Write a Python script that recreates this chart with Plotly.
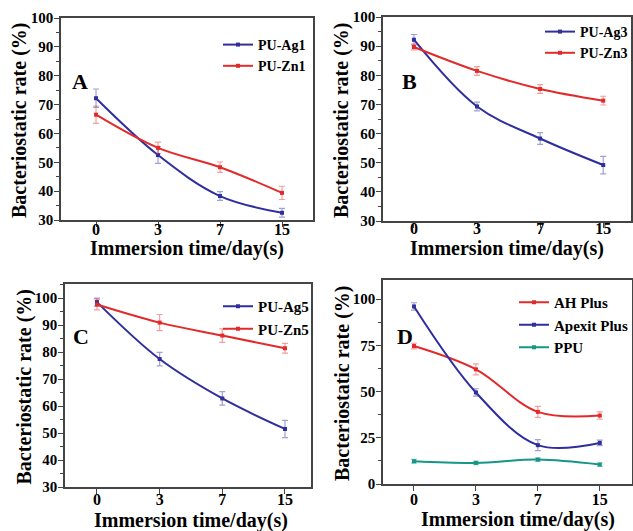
import plotly.graph_objects as go

# ---------------- data ----------------
days = ["0", "3", "7", "15"]

# Panel A
ag1 = [72.2, 52.5, 38.3, 32.5]
ag1_err = [3.2, 2.9, 1.5, 1.5]
zn1 = [66.5, 55.0, 48.3, 39.4]
zn1_err = [3.0, 2.0, 1.8, 2.3]

# Panel B
ag3 = [92.2, 69.3, 58.3, 49.2]
ag3_err = [1.8, 1.5, 2.0, 3.0]
zn3 = [89.7, 81.5, 75.3, 71.3]
zn3_err = [1.0, 1.5, 1.5, 1.5]

# Panel C
ag5 = [98.5, 77.4, 62.8, 51.5]
ag5_err = [1.5, 2.5, 2.5, 3.2]
zn5 = [97.6, 90.9, 86.1, 81.4]
zn5_err = [2.0, 3.0, 2.5, 1.8]

# Panel D
ah_plus = [74.6, 62.0, 39.0, 37.0]
ah_plus_err = [1.5, 3.0, 3.0, 2.0]
apexit = [96.0, 49.5, 21.0, 22.2]
apexit_err = [2.0, 2.0, 3.0, 1.5]
ppu = [12.3, 11.4, 13.2, 10.5]
ppu_err = [1.0, 1.0, 1.0, 1.0]

BLUE = "rgb(46,46,158)"
RED = "rgb(226,42,42)"
TEAL = "rgb(22,150,132)"
BLUE_E = "rgba(46,46,158,0.45)"
RED_E = "rgba(226,42,42,0.45)"
TEAL_E = "rgba(22,150,132,0.45)"

FONT = "Liberation Serif"
W, H = 633, 531

fig = go.Figure()


def add(name, y, err, color, ecolor, ax, leg):
    fig.add_trace(go.Scatter(
        x=days, y=y, name=name, mode="lines+markers",
        line=dict(color=color, width=2, shape="spline", smoothing=1.0),
        marker=dict(symbol="square", size=4, color=color),
        error_y=dict(type="data", array=err, visible=True, color=ecolor,
                     thickness=1.2, width=3),
        xaxis="x" + ax, yaxis="y" + ax, legend=leg,
    ))


add("PU-Ag1", ag1, ag1_err, BLUE, BLUE_E, "", "legend")
add("PU-Zn1", zn1, zn1_err, RED, RED_E, "", "legend")
add("PU-Ag3", ag3, ag3_err, BLUE, BLUE_E, "2", "legend2")
add("PU-Zn3", zn3, zn3_err, RED, RED_E, "2", "legend2")
add("PU-Ag5", ag5, ag5_err, BLUE, BLUE_E, "3", "legend3")
add("PU-Zn5", zn5, zn5_err, RED, RED_E, "3", "legend3")
add("AH Plus", ah_plus, ah_plus_err, RED, RED_E, "4", "legend4")
add("Apexit Plus", apexit, apexit_err, BLUE, BLUE_E, "4", "legend4")
add("PPU", ppu, ppu_err, TEAL, TEAL_E, "4", "legend4")

# pixel boxes: (x0, x1, ytop, ybottom), x range, y range, y dtick,
# x-label standoff, x-title offset below axis, x-title centre shift
panels = [
    ((61, 313, 18, 220), [-0.565, 3.5], [30, 100], 10, -11, 28, 0),
    ((383, 631, 17, 221), [-0.49, 3.44], [30, 100], 10, -13, 27, 0),
    ((65, 311, 284, 487), [-0.51, 3.415], [30, 105.2], 10, -8, 33, 3),
    ((383, 632, 280, 484), [-0.5, 3.52], [0, 110.3], 25, -5, 35, 10),
]

xtickfont = dict(family=FONT, size=16, color="black", weight="bold")
ytickfont = dict(family=FONT, size=15, color="black", weight="bold")
layout = {}
annotations = []
for i, (box, xr, yr, dt, xso, toff, tsh) in enumerate(panels):
    sfx = "" if i == 0 else str(i + 1)
    x0, x1, yt, yb = box
    layout["xaxis" + sfx] = dict(
        domain=[x0 / W, x1 / W], anchor="y" + sfx, type="category",
        range=xr, showline=True, linecolor="#444", linewidth=1.5,
        mirror=True, ticks="outside", ticklen=5, tickcolor="#444",
        tickwidth=1.2, showgrid=False, zeroline=False, tickfont=xtickfont,
        automargin=False, ticklabelstandoff=xso,
    )
    layout["yaxis" + sfx] = dict(
        domain=[1 - yb / H, 1 - yt / H], anchor="x" + sfx,
        range=yr, dtick=dt, tick0=0, showline=True, linecolor="#444",
        linewidth=1.5, mirror=True, ticks="outside", ticklen=5,
        tickcolor="#444", tickwidth=1.2, showgrid=False, zeroline=False,
        tickfont=ytickfont, automargin=False, ticklabelstandoff=-2,
        minor=dict(dtick=dt / 2, ticks="outside", ticklen=3,
                   tickcolor="#444", tickwidth=1, showgrid=False),
    )
    # axis titles
    annotations.append(dict(
        text="Immersion time/day(s)", xref="paper", yref="paper",
        x=((x0 + x1) / 2 + tsh) / W, y=1 - (yb + toff) / H,
        xanchor="center", yanchor="middle", showarrow=False,
        font=dict(family=FONT, size=20, color="black", weight="bold"),
    ))
    annotations.append(dict(
        text="Bacteriostatic rate (%)", xref="paper", yref="paper",
        x=(x0 - 41) / W, y=1 - ((yt + yb) / 2 + 2) / H, xanchor="center",
        yanchor="middle", textangle=-90, showarrow=False,
        font=dict(family=FONT, size=20, color="black", weight="bold"),
    ))

letters = [("A", 80, 81), ("B", 409, 81), ("C", 81, 336), ("D", 405, 336)]
for t, px, py in letters:
    annotations.append(dict(
        text=t, xref="paper", yref="paper", x=px / W, y=1 - py / H,
        xanchor="center", yanchor="middle", showarrow=False,
        font=dict(family=FONT, size=22, color="black", weight="bold"),
    ))

# legend placement: (x px, anchor, top y px, font size)
legpos = [(218, "left", 29, 14), (W, "right", 16, 14),
          (218, "left", 290, 15), (W, "right", 286, 15)]
for i, (lx, anc, ly, fs) in enumerate(legpos):
    key = "legend" if i == 0 else "legend" + str(i + 1)
    layout[key] = dict(
        x=lx / W, y=1 - ly / H, xanchor=anc, yanchor="top",
        bgcolor="rgba(0,0,0,0)",
        font=dict(family=FONT, size=fs, color="black", weight="bold"),
        itemwidth=30, tracegroupgap=0,
    )

fig.update_layout(
    width=W, height=H, margin=dict(l=0, r=0, t=0, b=0, autoexpand=False),
    paper_bgcolor="white", plot_bgcolor="white", showlegend=True,
    annotations=annotations, **layout,
)

fig.write_html(
    "out.html",
    config={"displayModeBar": False},
    post_script="document.body.style.margin='0';document.body.style.overflow='hidden';",
)
